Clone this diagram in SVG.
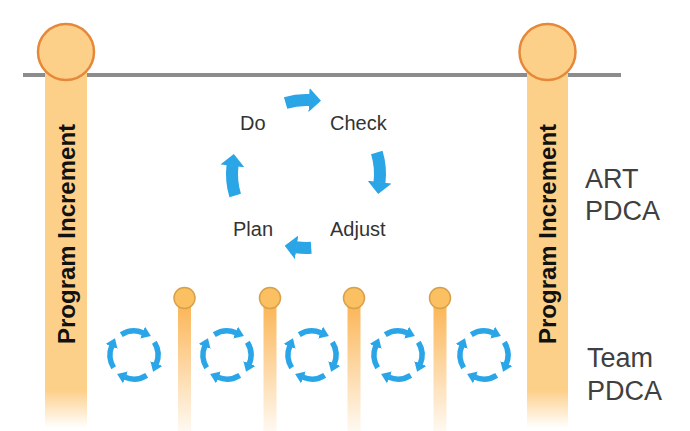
<svg xmlns="http://www.w3.org/2000/svg" xmlns:xlink="http://www.w3.org/1999/xlink" width="690" height="431" viewBox="0 0 690 431">
  <style>
    .pi { font-family: "Liberation Sans", Arial, sans-serif; font-weight: bold; font-size: 24px; fill: #111; }
    .step { font-family: "Liberation Sans", Arial, sans-serif; font-size: 20px; fill: #333; }
    .side { font-family: "Liberation Sans", Arial, sans-serif; font-size: 27px; fill: #404040; }
    .bigcirc { fill: #FDD08A; stroke: #E5883A; stroke-width: 2.5; }
    .smallcirc { fill: #FBC062; stroke: #D9A04A; stroke-width: 1.5; }
    .loop path { fill: none; stroke: #2AA6E8; stroke-width: 5.5; marker-end: url(#smallHead); }
    .big { fill: none; stroke: #2AA5E6; stroke-width: 12; marker-end: url(#bigHead); }
  </style>
  <defs>
    <linearGradient id="bigFade" gradientUnits="userSpaceOnUse" x1="0" y1="52" x2="0" y2="428">
      <stop offset="0" stop-color="#FDD08A"/>
      <stop offset="0.9" stop-color="#FDD08A"/>
      <stop offset="1" stop-color="#FDD08A" stop-opacity="0"/>
    </linearGradient>
    <linearGradient id="smallFade" gradientUnits="userSpaceOnUse" x1="0" y1="298" x2="0" y2="431">
      <stop offset="0" stop-color="#FBB24F"/>
      <stop offset="1" stop-color="#FBB24F" stop-opacity="0.08"/>
    </linearGradient>
    <marker id="smallHead" markerUnits="userSpaceOnUse" viewBox="0 0 9 13" markerWidth="9" markerHeight="13" refX="0.5" refY="6.5" orient="auto">
      <path d="M0,0 L9,6.5 L0,13 z" fill="#2AA6E8"/>
    </marker>
    <marker id="bigHead" markerUnits="userSpaceOnUse" viewBox="0 0 12 24" markerWidth="12" markerHeight="24" refX="0.5" refY="12" orient="auto">
      <path d="M0,0 L12,12 L0,24 z" fill="#2AA5E6"/>
    </marker>
    <g id="loopShape" class="loop">
      <path d="M-12.72,-20.35 A24,24 0 0 1 8.99,-22.25"/>
      <path d="M20.35,-12.72 A24,24 0 0 1 22.25,8.99"/>
      <path d="M12.72,20.35 A24,24 0 0 1 -8.99,22.25"/>
      <path d="M-20.35,12.72 A24,24 0 0 1 -22.25,-8.99"/>
    </g>
  </defs>

  <rect width="690" height="431" fill="#FFFFFF"/>

  <g id="timeline">
    <line x1="23" y1="75" x2="621" y2="75" stroke="#8C8C8C" stroke-width="4"/>
  </g>

  <g id="pi-left">
    <rect x="45" y="52" width="42" height="379" fill="url(#bigFade)"/>
    <circle class="bigcirc" cx="66" cy="52" r="28"/>
    <text class="pi" transform="translate(74.5,234) rotate(-90)" text-anchor="middle">Program Increment</text>
  </g>

  <g id="pi-right">
    <rect x="527" y="52" width="41" height="379" fill="url(#bigFade)"/>
    <circle class="bigcirc" cx="547.5" cy="52" r="28"/>
    <text class="pi" transform="translate(556,234) rotate(-90)" text-anchor="middle">Program Increment</text>
  </g>

  <g id="iterations">
    <g id="iter-1">
      <rect x="178" y="298" width="13" height="133" fill="url(#smallFade)"/>
      <circle class="smallcirc" cx="184.5" cy="298" r="10.5"/>
    </g>
    <g id="iter-2">
      <rect x="263.5" y="298" width="13" height="133" fill="url(#smallFade)"/>
      <circle class="smallcirc" cx="270" cy="298" r="10.5"/>
    </g>
    <g id="iter-3">
      <rect x="347.5" y="298" width="13" height="133" fill="url(#smallFade)"/>
      <circle class="smallcirc" cx="354" cy="298" r="10.5"/>
    </g>
    <g id="iter-4">
      <rect x="433.5" y="298" width="13" height="133" fill="url(#smallFade)"/>
      <circle class="smallcirc" cx="440" cy="298" r="10.5"/>
    </g>
  </g>

  <g id="team-loops">
    <use id="loop-1" xlink:href="#loopShape" href="#loopShape" transform="translate(134,355)"/>
    <use id="loop-2" xlink:href="#loopShape" href="#loopShape" transform="translate(227,355)"/>
    <use id="loop-3" xlink:href="#loopShape" href="#loopShape" transform="translate(312,355)"/>
    <use id="loop-4" xlink:href="#loopShape" href="#loopShape" transform="translate(398,355)"/>
    <use id="loop-5" xlink:href="#loopShape" href="#loopShape" transform="translate(484,355)"/>
  </g>

  <g id="pdca-labels">
    <g id="do"><text class="step" x="240" y="130">Do</text></g>
    <g id="check"><text class="step" x="330" y="130">Check</text></g>
    <g id="adjust"><text class="step" x="330" y="236">Adjust</text></g>
    <g id="plan"><text class="step" x="233" y="236">Plan</text></g>
  </g>

  <g id="connectors">
    <path class="big" d="M285.6,102.9 A74,74 0 0 1 309.5,100.1"/>
    <path class="big" d="M376.8,152.4 A74,74 0 0 1 379.5,182.6"/>
    <path class="big" d="M311.2,247.8 A74,74 0 0 1 296.1,247.3"/>
    <path class="big" d="M235.2,195.6 A74,74 0 0 1 232.5,165.4"/>
  </g>

  <g id="art-label">
    <text class="side" x="585" y="188">ART</text>
    <text class="side" x="585" y="220">PDCA</text>
  </g>
  <g id="team-label">
    <text class="side" x="587" y="367">Team</text>
    <text class="side" x="587" y="400">PDCA</text>
  </g>
</svg>
